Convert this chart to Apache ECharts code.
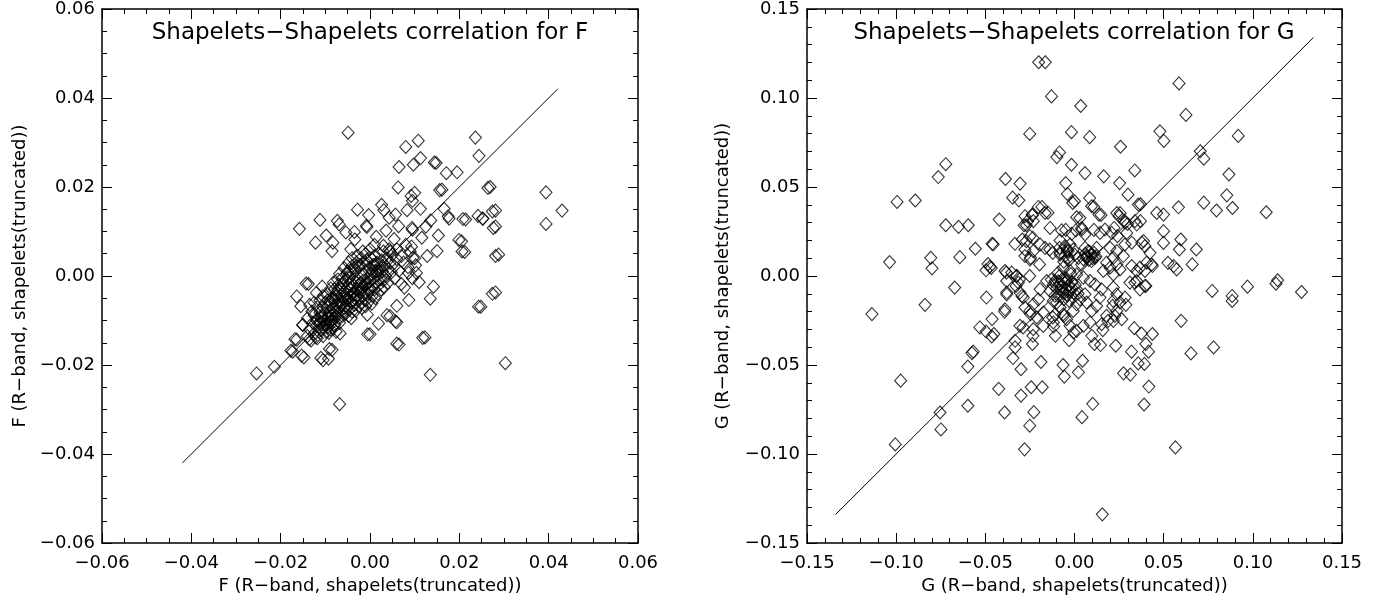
<!DOCTYPE html>
<html>
<head>
<meta charset="utf-8">
<script src="https://cdn.jsdelivr.net/npm/echarts@6/dist/echarts.min.js"></script>
<style>
  html, body { margin: 0; padding: 0; background: #fff; }
  #box { width: 1380px; height: 603px; }
</style>
</head>
<body>
<div id="box"></div>
<script>
var fData = [
  [-0.0049,0.0322],[0.0108,0.0304],[0.0080,0.0290],[0.0236,0.0311],[0.0244,0.0270],[0.0113,0.0265],[0.0097,0.0250],
  [0.0065,0.0245],[0.0144,0.0255],[0.0171,0.0231],[0.0195,0.0233],[0.0063,0.0199],[0.0156,0.0193],[0.0264,0.0198],
  [0.0092,0.0180],[0.0100,0.0187],[0.0095,0.0169],[0.0113,0.0151],[0.0083,0.0148],[0.0026,0.0160],[0.0031,0.0148],
  [0.0057,0.0138],[0.0043,0.0131],[-0.0028,0.0149],[-0.0003,0.0137],[0.0166,0.0151],[0.0177,0.0129],[0.0175,0.0134],
  [0.0208,0.0128],[0.0242,0.0135],[0.0252,0.0129],[0.0274,0.0145],[0.0276,0.0108],[0.0136,0.0125],[0.0125,0.0111],
  [0.0094,0.0108],[0.0095,0.0104],[0.0064,0.0112],[-0.0112,0.0126],[-0.0073,0.0124],[-0.0069,0.0116],[-0.0158,0.0106],
  [-0.0054,0.0098],[-0.0035,0.0099],[-0.0008,0.0113],[-0.0007,0.0110],[-0.0098,0.0091],[-0.0122,0.0075],[-0.0083,0.0075],
  [-0.0034,0.0082],[0.0014,0.0088],[0.0036,0.0102],[0.0054,0.0083],[0.0116,0.0086],[0.0153,0.0091],[0.0199,0.0081],
  [0.0206,0.0055],[0.0150,0.0056],[0.0281,0.0045],[-0.0085,0.0056],[-0.0043,0.0060],[0.0128,0.0045],[0.0096,0.0041],
  [0.0274,-0.0040],[0.0243,-0.0069],[0.0142,-0.0024],[0.0135,-0.0051],[0.0087,-0.0054],[0.0110,-0.0014],[-0.0143,-0.0017],
  [-0.0164,-0.0046],[-0.0155,-0.0068],[-0.0120,-0.0038],[-0.0107,-0.0024],[-0.0151,-0.0110],[-0.0168,-0.0142],[-0.0136,-0.0142],
  [-0.0177,-0.0168],[-0.0153,-0.0179],[-0.0110,-0.0184],[-0.0091,-0.0164],[-0.0005,-0.0131],[0.0060,-0.0152],[0.0118,-0.0139],
  [0.0057,-0.0102],[0.0038,-0.0088],[0.0019,-0.0107],[-0.0006,-0.0087],[-0.0042,-0.0095],[-0.0067,-0.0129],[-0.0121,-0.0138],
  [0.0086,0.0007],[0.0077,-0.0026],[0.0060,-0.0067],[0.0104,0.0007],[0.0093,0.0066],[0.0102,0.0024],[0.0303,-0.0196],
  [0.0135,-0.0222],[-0.0068,-0.0288],[-0.0254,-0.0219],[-0.0214,-0.0204],[-0.0173,-0.0170],[-0.0148,-0.0183],[-0.0164,-0.0143],
  [-0.0105,-0.0189],[-0.0093,-0.0186],[-0.0085,-0.0166],[0.0123,-0.0138],[0.0065,-0.0154],[0.0000,-0.0131],[0.0248,-0.0069],
  [0.0060,-0.0104],[0.0045,-0.0090],[0.0394,0.0188],[0.0430,0.0147],[0.0394,0.0117],[0.0269,0.0200],[0.0281,0.0147],
  [0.0281,0.0111],[0.0288,0.0048],[0.0281,-0.0037],[0.0253,0.0129],[0.0212,0.0054],[0.0205,0.0078],[0.0214,0.0127],
  [0.0148,0.0254],[0.0161,0.0194],[-0.0138,-0.0018],
  // core
  [-0.0150,-0.0110],[-0.0140,-0.0095],[-0.0135,-0.0120],[-0.0128,-0.0105],[-0.0125,-0.0088],[-0.0120,-0.0112],[-0.0118,-0.0098],
  [-0.0115,-0.0125],[-0.0112,-0.0082],[-0.0110,-0.0105],[-0.0108,-0.0092],[-0.0105,-0.0115],[-0.0103,-0.0100],[-0.0100,-0.0085],
  [-0.0098,-0.0110],[-0.0096,-0.0070],[-0.0094,-0.0095],[-0.0092,-0.0128],[-0.0090,-0.0080],[-0.0088,-0.0102],[-0.0086,-0.0060],
  [-0.0085,-0.0090],[-0.0083,-0.0118],[-0.0082,-0.0050],[-0.0080,-0.0075],[-0.0078,-0.0095],[-0.0077,-0.0040],[-0.0075,-0.0065],
  [-0.0073,-0.0085],[-0.0072,-0.0030],[-0.0070,-0.0055],[-0.0068,-0.0105],[-0.0067,-0.0072],[-0.0065,-0.0045],[-0.0063,-0.0020],
  [-0.0062,-0.0060],[-0.0060,-0.0080],[-0.0058,-0.0035],[-0.0057,-0.0050],[-0.0055,-0.0010],[-0.0054,-0.0068],[-0.0052,-0.0040],
  [-0.0050,-0.0025],[-0.0049,-0.0055],[-0.0047,-0.0005],[-0.0046,-0.0075],[-0.0045,-0.0045],[-0.0043,-0.0030],[-0.0042,-0.0015],
  [-0.0040,-0.0060],[-0.0038,0.0005],[-0.0037,-0.0038],[-0.0035,-0.0022],[-0.0034,-0.0050],[-0.0032,0.0012],[-0.0030,-0.0030],
  [-0.0029,-0.0008],[-0.0027,-0.0045],[-0.0025,0.0020],[-0.0024,-0.0018],[-0.0022,-0.0035],[-0.0020,0.0002],[-0.0019,-0.0060],
  [-0.0017,-0.0025],[-0.0015,0.0028],[-0.0014,-0.0010],[-0.0012,-0.0040],[-0.0010,0.0010],[-0.0009,-0.0020],[-0.0007,0.0035],
  [-0.0005,-0.0005],[-0.0004,-0.0030],[-0.0002,0.0018],[0.0000,-0.0012],[0.0002,0.0040],[0.0003,0.0005],[0.0005,-0.0022],
  [0.0007,0.0025],[0.0008,-0.0005],[0.0010,0.0045],[0.0012,0.0012],[0.0014,-0.0015],[0.0016,0.0030],[0.0018,0.0002],
  [0.0020,0.0050],[0.0022,0.0020],[0.0024,-0.0008],[0.0026,0.0035],[0.0028,0.0010],[0.0030,0.0055],[0.0033,0.0025],
  [0.0035,0.0000],[0.0038,0.0040],[0.0040,0.0015],[0.0043,0.0060],[0.0045,0.0030],[0.0048,0.0008],[0.0050,0.0048],
  [0.0055,0.0022],[0.0060,0.0038],
  [-0.0120,-0.0100],[-0.0113,-0.0108],[-0.0108,-0.0122],[-0.0100,-0.0098],[-0.0095,-0.0115],[-0.0090,-0.0105],[-0.0087,-0.0088],
  [-0.0080,-0.0110],[-0.0076,-0.0125],[-0.0125,-0.0130],[-0.0105,-0.0070],[-0.0095,-0.0055],
  [-0.0065,-0.0030],[-0.0060,-0.0015],[-0.0055,-0.0055],[-0.0050,-0.0070],[-0.0045,-0.0020],[-0.0040,-0.0040],[-0.0035,-0.0065],
  [-0.0030,-0.0015],[-0.0025,-0.0050],[-0.0020,-0.0030],[-0.0015,-0.0045],[-0.0010,-0.0055],[-0.0005,-0.0040],[0.0000,-0.0030],
  [0.0005,-0.0045],[0.0010,-0.0030],[0.0015,0.0010],[0.0020,-0.0020],[0.0030,-0.0010],[-0.0070,-0.0020],[-0.0075,-0.0045],
  [-0.0080,-0.0030],[-0.0085,-0.0050],[-0.0020,0.0040],[-0.0010,0.0050],[0.0000,0.0060],[0.0010,0.0070],[-0.0030,0.0030],
  [-0.0040,0.0022],[-0.0050,0.0010],
  [0.0030,0.0068],[0.0045,0.0055],[0.0060,0.0060],[0.0070,0.0045],[0.0075,0.0030],[0.0085,0.0020],[0.0065,0.0012],
  [0.0090,0.0055],[0.0080,0.0070],[0.0055,-0.0005],[0.0040,-0.0015],[0.0095,-0.0005],[0.0070,-0.0018],[0.0100,0.0040],
  [-0.0135,-0.0065],[-0.0130,-0.0080],[-0.0125,-0.0060],[-0.0118,-0.0070],[-0.0112,-0.0055],[-0.0105,-0.0045],[-0.0100,-0.0060],
  [-0.0095,-0.0040],[-0.0090,-0.0065],[-0.0088,-0.0028],[-0.0082,-0.0015],[-0.0078,-0.0055],[-0.0072,-0.0008],[-0.0068,0.0005],
  [-0.0062,-0.0005],[-0.0058,0.0018],[-0.0052,0.0005],[-0.0048,0.0030],[-0.0044,0.0012],[-0.0040,0.0040],[-0.0036,0.0018],
  [-0.0028,0.0045],[-0.0022,0.0025],[-0.0016,0.0055],[-0.0008,0.0028],
  [-0.0140,-0.0135],[-0.0132,-0.0145],[-0.0118,-0.0140],[-0.0105,-0.0135],[-0.0098,-0.0125],[-0.0088,-0.0120],[-0.0078,-0.0108],
  [-0.0070,-0.0095],[-0.0062,-0.0090],[-0.0055,-0.0085],[-0.0048,-0.0090],[-0.0040,-0.0080],[-0.0032,-0.0078],[-0.0025,-0.0068],
  [-0.0018,-0.0072],[-0.0010,-0.0068],[-0.0003,-0.0058],[0.0004,-0.0062],[0.0012,-0.0050],[0.0018,-0.0040],[0.0025,-0.0030],
  [0.0032,-0.0025],
  [-0.0110,-0.0095],[-0.0100,-0.0108],[-0.0093,-0.0090],[-0.0085,-0.0098],[-0.0075,-0.0080],[-0.0065,-0.0065],[-0.0058,-0.0072],
  [-0.0050,-0.0050],[-0.0042,-0.0058],[-0.0035,-0.0042],[-0.0028,-0.0030],[-0.0020,-0.0015],[-0.0012,-0.0022],[-0.0005,-0.0015],
  [0.0005,0.0010],[0.0012,0.0025],[0.0020,0.0012],[0.0028,0.0022]
];

// G panel
var gData = [
  [-0.0201,0.1201],[-0.0164,0.1201],[-0.0129,0.1009],[0.0035,0.0955],[0.0586,0.1082],[0.0625,0.0905],[-0.0251,0.0798],
  [-0.0017,0.0808],[0.0085,0.0780],[0.0479,0.0813],[0.0501,0.0759],[0.0918,0.0787],[0.0258,0.0726],[-0.0084,0.0694],
  [-0.0099,0.0668],[0.0705,0.0701],[0.0725,0.0659],[-0.0722,0.0628],[-0.0764,0.0556],[-0.0017,0.0625],[0.0059,0.0578],
  [0.0164,0.0560],[0.0338,0.0593],[0.0866,0.0571],[-0.0387,0.0545],[-0.0305,0.0519],[-0.0049,0.0522],[-0.0040,0.0461],
  [0.0253,0.0522],[0.0300,0.0457],[-0.0347,0.0440],[-0.0312,0.0425],[0.0000,0.0420],[0.0085,0.0438],[0.0109,0.0388],
  [-0.0995,0.0416],[-0.0893,0.0424],[0.0583,0.0386],[0.0725,0.0412],[0.0796,0.0368],[0.0854,0.0453],[0.0886,0.0382],
  [0.1075,0.0358],[0.0370,0.0403],[-0.0183,0.0388],[-0.0149,0.0356],[-0.0236,0.0341],[-0.0263,0.0308],[-0.0270,0.0285],
  [-0.0422,0.0317],[-0.0722,0.0285],[-0.0650,0.0276],[-0.0596,0.0285],[-0.0049,0.0259],[0.0030,0.0326],[0.0149,0.0343],
  [0.0256,0.0353],[0.0042,0.0261],[0.0109,0.0259],[0.0241,0.0224],[0.0283,0.0300],[0.0370,0.0308],[0.0499,0.0345],
  [0.0387,0.0196],[0.0499,0.0252],[0.0499,0.0186],[0.0596,0.0205],[0.0683,0.0149],[0.0588,0.0149],[0.0524,0.0074],
  [0.0556,0.0056],[0.0573,0.0037],[0.0660,0.0065],[0.0437,0.0056],[0.0400,-0.0056],[0.0338,-0.0037],[0.0772,-0.0084],
  [0.0884,-0.0112],[0.0970,-0.0060],[0.1139,-0.0024],[0.1130,-0.0043],[0.1273,-0.0090],[-0.1037,0.0078],[-0.0806,0.0102],
  [-0.0799,0.0043],[-0.0672,-0.0065],[-0.0643,0.0106],[-0.0556,0.0153],[-0.0462,0.0181],[-0.0456,0.0178],[-0.0485,0.0067],
  [-0.0475,0.0052],[-0.0467,0.0045],[-0.0496,0.0032],[-0.0382,0.0019],[-0.0325,0.0000],[-0.0308,-0.0019],[-0.0328,-0.0056],
  [-0.0380,-0.0103],[-0.0295,-0.0112],[-0.0494,-0.0121],[-0.0270,0.0196],[-0.0233,0.0214],[-0.0278,0.0149],[-0.0246,0.0102],
  [-0.0196,0.0065],[-0.0251,0.0000],[-0.0139,0.0149],[-0.0122,0.0130],[-0.0084,0.0158],[-0.0042,0.0140],[-0.0035,0.0102],
  [-0.1136,-0.0214],[-0.0838,-0.0162],[-0.0975,-0.0588],[-0.1005,-0.0946],[-0.0754,-0.0767],[-0.0749,-0.0862],[-0.0598,-0.0729],
  [-0.0598,-0.0509],[-0.0575,-0.0433],[-0.0568,-0.0425],[-0.0531,-0.0289],[-0.0496,-0.0312],[-0.0464,-0.0340],[-0.0452,-0.0326],
  [-0.0462,-0.0242],[-0.0392,-0.0200],[-0.0425,-0.0634],[-0.0392,-0.0767],[-0.0345,-0.0461],[-0.0333,-0.0401],[-0.0333,-0.0364],
  [-0.0300,-0.0524],[-0.0300,-0.0672],[-0.0288,-0.0289],[-0.0280,-0.0974],[-0.0251,-0.0841],[-0.0243,-0.0625],[-0.0228,-0.0765],
  [-0.0236,-0.0382],[-0.0233,-0.0336],[-0.0246,-0.0214],[-0.0188,-0.0483],[-0.0181,-0.0625],[-0.0107,-0.0336],[-0.0117,-0.0284],
  [-0.0064,-0.0500],[-0.0057,-0.0565],[-0.0030,-0.0360],[0.0022,-0.0541],[0.0045,-0.0476],[0.0042,-0.0793],[0.0102,-0.0718],
  [0.0156,-0.1339],[0.0097,-0.0336],[0.0112,-0.0382],[0.0146,-0.0388],[0.0159,-0.0304],[0.0231,-0.0392],[0.0087,-0.0261],
  [0.0012,-0.0308],[-0.0005,-0.0317],[0.0320,-0.0425],[0.0275,-0.0547],[0.0313,-0.0554],[0.0357,-0.0491],[0.0392,-0.0494],
  [0.0400,-0.0382],[0.0415,-0.0425],[0.0335,-0.0293],[0.0375,-0.0323],[0.0437,-0.0326],[0.0417,-0.0621],[0.0390,-0.0722],
  [0.0566,-0.0963],[0.0598,-0.0252],[0.0653,-0.0435],[0.0780,-0.0401],[0.0226,-0.0224],[0.0188,-0.0252],[0.0214,-0.0168],
  [0.0288,-0.0162],[0.0884,-0.0140],[-0.0122,-0.0233],[-0.0059,-0.0224],
  [-0.0390,0.0028],[-0.0352,0.0019],[-0.0324,0.0000],[-0.0315,-0.0037],[-0.0380,-0.0028],[-0.0306,-0.0093],[-0.0380,-0.0093],
  [-0.0390,-0.0187],[-0.0287,-0.0121],[-0.0278,-0.0177],[-0.0250,-0.0196],[-0.0231,-0.0159],[-0.0203,-0.0131],[-0.0212,-0.0233],
  [-0.0175,-0.0205],[-0.0193,-0.0075],[-0.0156,-0.0028],[-0.0137,-0.0084],[-0.0119,-0.0140],[-0.0109,-0.0215],[-0.0081,-0.0177],
  [-0.0063,-0.0215],[-0.0044,-0.0243],[-0.0007,-0.0196],[0.0012,-0.0159],[0.0031,-0.0131],[0.0059,-0.0103],[0.0068,-0.0149],
  [0.0096,-0.0196],[0.0124,-0.0168],[0.0143,-0.0121],[0.0152,-0.0075],[0.0115,-0.0047],[0.0087,-0.0028],[0.0050,-0.0009],
  [0.0012,0.0009],[-0.0025,0.0028],[-0.0063,0.0047],[-0.0091,0.0019],[-0.0109,-0.0028],[-0.0081,-0.0047],[-0.0044,-0.0028],
  [-0.0016,-0.0065],[0.0012,-0.0075],[-0.0072,-0.0084],[-0.0091,-0.0112],[-0.0044,-0.0103],[-0.0007,-0.0121],[0.0218,-0.0065],
  [0.0237,-0.0103],[0.0218,-0.0140],[0.0255,-0.0149],[0.0283,-0.0121],[0.0349,-0.0028],[0.0367,-0.0075],[0.0395,-0.0056],
  [0.0311,-0.0037],[0.0237,-0.0196],[0.0265,-0.0243],[0.0218,-0.0252],[0.0152,-0.0271],[0.0180,-0.0224],[-0.0119,-0.0261],
  [-0.0175,-0.0280],[-0.0025,-0.0280],[0.0050,-0.0280],[-0.0306,-0.0280],[-0.0231,-0.0299],
  [-0.0193,0.0177],[-0.0165,0.0158],[-0.0231,0.0140],[-0.0278,0.0112],[-0.0250,0.0093],[-0.0081,0.0200],[-0.0053,0.0168],
  [-0.0025,0.0177],[-0.0035,0.0140],[-0.0007,0.0149],[-0.0053,0.0112],[-0.0081,0.0121],[0.0059,0.0158],[0.0078,0.0140],
  [0.0096,0.0121],[0.0115,0.0102],[0.0068,0.0102],[0.0124,0.0158],[0.0096,0.0084],[0.0022,0.0102],[0.0040,0.0065],
  [0.0199,0.0158],[0.0237,0.0140],[0.0218,0.0102],[0.0274,0.0112],[0.0283,0.0177],[0.0321,0.0187],[0.0377,0.0187],
  [0.0395,0.0168],[0.0423,0.0130],[0.0405,0.0075],[0.0433,0.0065],[0.0367,0.0047],[0.0349,0.0028],[0.0321,0.0056],
  [0.0395,0.0028],[0.0237,0.0065],[0.0255,0.0037],[0.0199,0.0047],[0.0180,0.0075],[0.0162,0.0028],[0.0218,0.0009],
  [-0.0278,0.0336],[-0.0237,0.0345],[-0.0231,0.0308],[-0.0283,0.0285],[-0.0137,0.0270],[-0.0165,0.0354],[-0.0203,0.0388],
  [0.0012,0.0330],[0.0096,0.0392],[0.0137,0.0345],[-0.0010,0.0410],[0.0237,0.0354],[0.0250,0.0336],[0.0278,0.0312],
  [0.0298,0.0293],[0.0339,0.0308],[0.0349,0.0289],[0.0358,0.0401],[0.0461,0.0354],[-0.0072,0.0256],[-0.0016,0.0237],
  [0.0008,0.0256],[0.0040,0.0270],[0.0059,0.0233],[0.0143,0.0242],[0.0171,0.0261],[0.0209,0.0242],[0.0222,0.0270],
  [0.0293,0.0242],[-0.0334,0.0181],[-0.0293,0.0205],[-0.0250,0.0224],
  [-0.0120,-0.0050],[-0.0100,-0.0070],[-0.0090,-0.0030],[-0.0075,-0.0060],[-0.0065,-0.0095],[-0.0055,-0.0040],[-0.0050,-0.0075],
  [-0.0040,-0.0110],[-0.0035,-0.0055],[-0.0025,-0.0085],[-0.0015,-0.0035],[-0.0005,-0.0095],[0.0005,-0.0050],[-0.0110,-0.0110],
  [-0.0130,-0.0020],[-0.0085,0.0000],[-0.0060,-0.0130],[-0.0030,-0.0140],[0.0020,-0.0100],[-0.0100,-0.0150],[-0.0070,-0.0020],
  [-0.0045,-0.0015],[-0.0020,0.0010],[0.0070,0.0110],[0.0085,0.0135],[0.0100,0.0100],[0.0110,0.0130],[0.0060,0.0125],
  [0.0080,0.0090],[0.0120,0.0110],[0.0050,0.0095],[-0.0060,0.0080],[-0.0030,0.0090],[0.0000,0.0120],[-0.0080,0.0130],
  [-0.0040,0.0150]
];

// one-to-one lines
var fLine = [[-0.042, -0.042], [0.042, 0.042]];
var gLine = [[-0.134, -0.134], [0.134, 0.134]];

// axis ranges: min, max, interval
var fRange = [-0.06, 0.06, 0.02];
var gRange = [-0.15, 0.15, 0.05];

var titles = ['Shapelets\u2212Shapelets correlation for F', 'Shapelets\u2212Shapelets correlation for G'];
var xNames = ['F (R\u2212band, shapelets(truncated))', 'G (R\u2212band, shapelets(truncated))'];
var yNames = ['F (R\u2212band, shapelets(truncated))', 'G (R\u2212band, shapelets(truncated))'];

var FONT = 'DejaVu Sans';

function fmt(v) {
  var s = Math.abs(v).toFixed(2);
  return (v < -1e-9 ? '\u2212' : '') + s;
}

function axis(grid, pos, range, minor, labelled, name, gap) {
  return {
    gridIndex: grid,
    type: 'value',
    position: pos,
    min: range[0],
    max: range[1],
    interval: range[2],
    axisLine: { onZero: false, lineStyle: { color: '#000', width: 1.5 } },
    axisTick: { inside: true, length: 10, lineStyle: { color: '#000', width: 1 } },
    minorTick: { show: true, splitNumber: minor, length: 5, lineStyle: { color: '#000', width: 1 } },
    splitLine: { show: false },
    minorSplitLine: { show: false },
    axisLabel: {
      show: labelled,
      formatter: fmt,
      fontSize: 18,
      fontFamily: FONT,
      color: '#000',
      margin: (pos === 'left' || pos === 'right') ? 7 : 11
    },
    name: labelled ? name : '',
    nameLocation: 'middle',
    nameGap: gap,
    nameTextStyle: { fontSize: 18, fontFamily: FONT, color: '#000' }
  };
}

var myChart = echarts.init(document.getElementById('box'));

var option = {
  animation: false,
  backgroundColor: '#fff',
  title: [
    { text: titles[0], left: 370, top: 22, textAlign: 'center', padding: 0,
      textStyle: { fontSize: 23, fontWeight: 'normal', fontFamily: FONT, color: '#000' } },
    { text: titles[1], left: 1074, top: 22, textAlign: 'center', padding: 0,
      textStyle: { fontSize: 23, fontWeight: 'normal', fontFamily: FONT, color: '#000' } }
  ],
  grid: [
    { left: 102, top: 7, width: 536, height: 536 },
    { left: 807, top: 7, width: 535, height: 536 }
  ],
  xAxis: [
    axis(0, 'bottom', fRange, 4, true, xNames[0], 34),
    axis(0, 'top', fRange, 4, false, '', 0),
    axis(1, 'bottom', gRange, 5, true, xNames[1], 34),
    axis(1, 'top', gRange, 5, false, '', 0)
  ],
  yAxis: [
    axis(0, 'left', fRange, 4, true, yNames[0], 73),
    axis(0, 'right', fRange, 4, false, '', 0),
    axis(1, 'left', gRange, 5, true, yNames[1], 75),
    axis(1, 'right', gRange, 5, false, '', 0)
  ],
  series: [
    {
      type: 'scatter', xAxisIndex: 0, yAxisIndex: 0, data: fData,
      symbol: 'diamond', symbolSize: [12, 13],
      itemStyle: { color: 'rgba(0,0,0,0)', borderColor: '#000', borderWidth: 1.1 }
    },
    {
      type: 'line', xAxisIndex: 0, yAxisIndex: 0, data: fLine,
      symbol: 'none', lineStyle: { color: '#000', width: 1 }
    },
    {
      type: 'scatter', xAxisIndex: 2, yAxisIndex: 2, data: gData,
      symbol: 'diamond', symbolSize: [12, 13],
      itemStyle: { color: 'rgba(0,0,0,0)', borderColor: '#000', borderWidth: 1.1 }
    },
    {
      type: 'line', xAxisIndex: 2, yAxisIndex: 2, data: gLine,
      symbol: 'none', lineStyle: { color: '#000', width: 1 }
    }
  ]
};

myChart.setOption(option);
</script>
</body>
</html>
